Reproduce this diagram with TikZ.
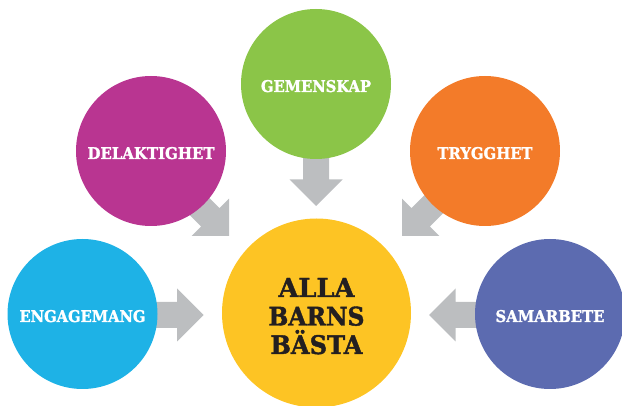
\documentclass[tikz,border=0pt]{standalone}
\usepackage{fontspec}
\setmainfont{DejaVu Serif}[BoldFeatures={FakeBold=1.6}]
\usepackage{graphicx}
\definecolor{cgreen}{RGB}{139,197,72}
\definecolor{cmagenta}{RGB}{185,53,145}
\definecolor{corange}{RGB}{243,123,41}
\definecolor{cblue}{RGB}{30,178,230}
\definecolor{cpurple}{RGB}{92,107,176}
\definecolor{cyellow}{RGB}{253,196,36}
\definecolor{cgray}{RGB}{188,190,192}
\definecolor{cdark}{RGB}{35,31,32}
\newcommand{\lbl}[3]{\resizebox{#1pt}{#2pt}{\bfseries #3}}
\newcommand{\sml}[2]{\raisebox{0pt}[16pt][0pt]{\lbl{#1}{12}{#2}}}
\newcommand{\midline}[1]{\hbox to 100pt{\hfil#1\hfil}}
\begin{document}
\begin{tikzpicture}[x=1pt,y=-1pt,
  circ/.style={circle,inner sep=0pt,minimum size=150pt,text=white},
  bigarrow/.pic={\fill[cgray] (0,0) -- (-26.5,26.5) -- (-26.5,13) -- (-62,13) -- (-62,-13) -- (-26.5,-13) -- (-26.5,-26.5) -- cycle;}]
\useasboundingbox (0,0) rectangle (622,406);
\clip (0,0) rectangle (622,406);
% arrow tips
\coordinate (tG) at (316,206);
\coordinate (tD) at (229,236);
\coordinate (tT) at (402,236);
\coordinate (tE) at (203.5,315);
\coordinate (tS) at (429,315);
\pic[rotate=-90] at (tG) {bigarrow};
\pic[rotate=-45] at (tD) {bigarrow};
\pic[rotate=-135] at (tT) {bigarrow};
\pic at (tE) {bigarrow};
\pic[rotate=180] at (tS) {bigarrow};
% circles
\node[circ,fill=cgreen] (g) at (316,84) {\sml{110}{GEMENSKAP}};
\node[circ,fill=cmagenta] (d) at (151,151) {\sml{127}{DELAKTIGHET}};
\node[circ,fill=corange] (t) at (485,151) {\sml{95}{TRYGGHET}};
\node[circ,fill=cblue] (e) at (82.5,314) {\sml{126}{ENGAGEMANG}};
\node[circ,fill=cpurple] (s) at (550,314) {\sml{109}{SAMARBETE}};
\node[circle,inner sep=0pt,minimum size=189pt,fill=cyellow,text=cdark] (y) at (316.5,313)
  {\raisebox{0pt}[82pt][0pt]{\vbox{\baselineskip=28.5pt\lineskiplimit=-20pt
      \midline{\lbl{76}{19}{ALLA}}
      \midline{\lbl{96}{19}{BARNS}}
      \midline{\lbl{92}{19}{B\smash{Ä}STA}}}}};
\end{tikzpicture}
\end{document}
